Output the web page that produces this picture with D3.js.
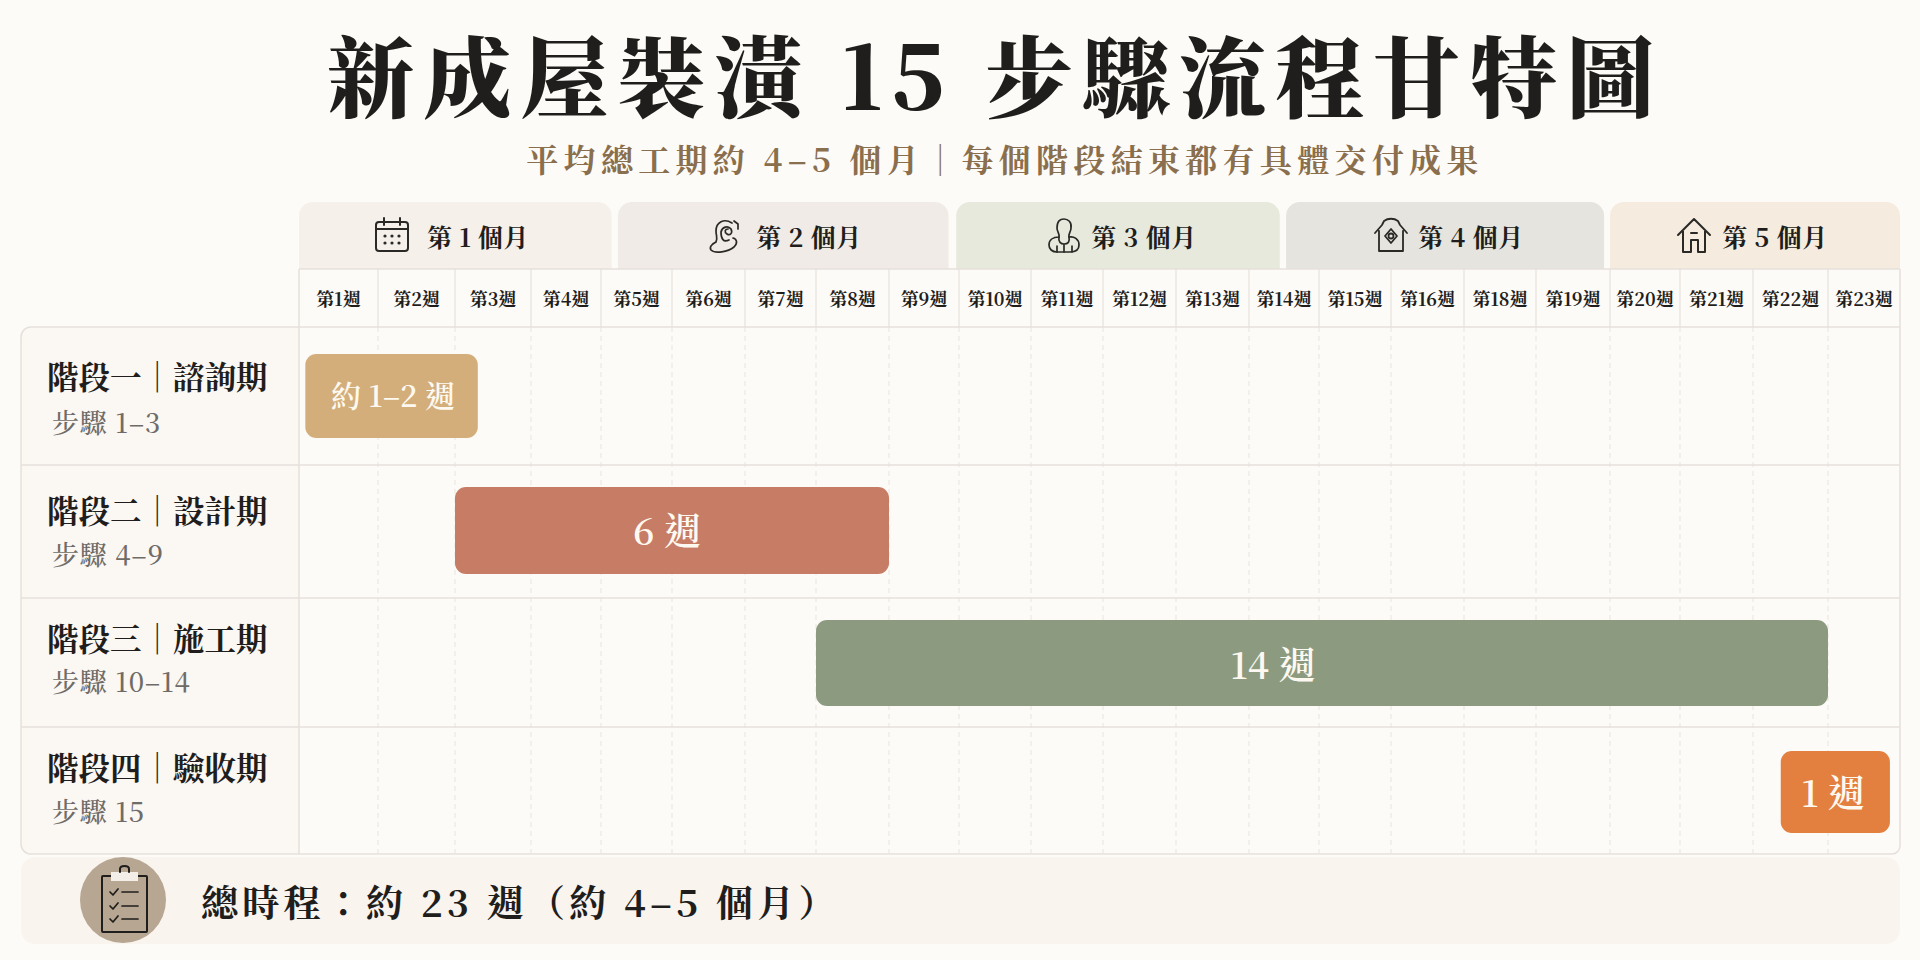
<!DOCTYPE html>
<html lang="zh-Hant"><head><meta charset="utf-8">
<script src="https://cdn.jsdelivr.net/npm/d3@7/dist/d3.min.js"></script>
<style>html,body{margin:0;padding:0;background:#fdfbf7;overflow:hidden}svg{display:block}
text{font-family:"Noto Serif CJK TC","Liberation Serif","Noto Sans CJK TC",serif;font-weight:700;dominant-baseline:central}</style>
</head><body><svg id="c" width="1920" height="960"></svg>
<script>
const titleText = "新成屋裝潢 15 步驟流程甘特圖";
const subtitleText = "平均總工期約 4–5 個月｜每個階段結束都有具體交付成果";
const footerText = "總時程：約 23 週（約 4–5 個月）";
const weekLabels = ["第1週","第2週","第3週","第4週","第5週","第6週","第7週","第8週","第9週","第10週","第11週","第12週","第13週","第14週","第15週","第16週","第18週","第19週","第20週","第21週","第22週","第23週"];
const monthLabels = ["第 1 個月","第 2 個月","第 3 個月","第 4 個月","第 5 個月"];
const monthStart = [0,4.24,8.96,13.53,18];
const monthEnd = [4.15,8.85,13.44,17.92,22];
const phaseNames = ["階段一｜諮詢期","階段二｜設計期","階段三｜施工期","階段四｜驗收期"];
const phaseSteps = ["步驟 1–3","步驟 4–9","步驟 10–14","步驟 15"];
const barLabels = ["約 1–2 週","6 週","14 週","1 週"];
const barStart = [0.08,2,7,20.37];
const barEnd = [2.3,8,21,21.86];

// layout (the hand-ruled columns of the reference are uneven)
const columnEdges = [299,378,455,531,601,672,745,816,889,959,1031,1103,1176,1249,1319,1391,1464,1536,1610,1680,1753,1828,1900];
const rowEdges = [327,465,598,727,854];
const x = d3.scaleLinear().domain(d3.range(columnEdges.length)).range(columnEdges);
const monthFill = ["#f5f0e9","#f0ebe6","#e6e9dc","#e5e4df","#f5ebdf"];
const barFill = ["#d3ae7a","#c67c65","#8c9b80","#e37f3f"];
const barTop = [354,487,620,751], barBottom = [438,574,706,833];
const barTextX = [393,667,1273,1833], barTextY = [393.5,528.5,662.5,790.5];
const labelY = [375.5,509.5,637.5,766.5], stepY = [421.5,553.5,680.5,810.5];
const lineCol = "#e6e1db";
const ink = "#1f1e1c";

const svg = d3.select("#c");
svg.append("rect").attr("width",1920).attr("height",960).attr("fill","#fdfbf7");

svg.append("text").attr("x",995).attr("y",72).attr("text-anchor","middle")
  .attr("font-size",88).attr("letter-spacing",8.9).attr("fill",ink).style("font-weight",900).text(titleText);
svg.append("text").attr("x",1005).attr("y",157.5).attr("text-anchor","middle")
  .attr("font-size",32).attr("letter-spacing",5.3).attr("fill","#8a6f4e").text(subtitleText);

// panels
svg.append("path").attr("fill","#fbf7f3").attr("d",`M299,327H31a10,10 0 0 0 -10,10V844a10,10 0 0 0 10,10H299Z`);
svg.append("path").attr("fill","#fdfbf8").attr("d",`M299,269H1900V846a8,8 0 0 1 -8,8H299Z`);

// months
svg.append("g").selectAll("path").data(monthLabels).join("path")
  .attr("fill",(d,i)=>monthFill[i])
  .attr("d",(d,i)=>{const a=x(monthStart[i]),b=x(monthEnd[i]);
    return `M${a},269V216a14,14 0 0 1 14,-14H${b-14}a14,14 0 0 1 14,14V269Z`;});
const monthTextX = [478,809,1144,1471,1775];
svg.append("g").selectAll("text").data(monthLabels).join("text")
  .attr("x",(d,i)=>monthTextX[i]).attr("y",235.5).attr("text-anchor","middle")
  .attr("font-size",25).attr("fill",ink).attr("letter-spacing",.5).text(d=>d);

// grid lines
const inner = d3.range(1,columnEdges.length-1);
svg.append("g").selectAll("line").data(inner).join("line")
  .attr("x1",d=>x(d)).attr("x2",d=>x(d)).attr("y1",269).attr("y2",327).attr("stroke",lineCol).attr("stroke-width",1.2);
svg.append("g").selectAll("line").data(inner).join("line")
  .attr("x1",d=>x(d)).attr("x2",d=>x(d)).attr("y1",327).attr("y2",854)
  .attr("stroke","#e9e5e0").attr("stroke-width",1).attr("stroke-dasharray","5 4");
svg.append("g").selectAll("line").data([269,...rowEdges.slice(1,4)]).join("line")
  .attr("x1",(d,i)=>i?21:299).attr("x2",1900).attr("y1",d=>d).attr("y2",d=>d).attr("stroke",lineCol).attr("stroke-width",1.6);
svg.append("line").attr("x1",299).attr("x2",1900).attr("y1",327).attr("y2",327).attr("stroke",lineCol).attr("stroke-width",1.6);
svg.append("path").attr("fill","none").attr("stroke",lineCol).attr("stroke-width",1.6)
  .attr("d","M299,327H31a10,10 0 0 0 -10,10V844a10,10 0 0 0 10,10H1892a8,8 0 0 0 8,-8V269M299,269V854");

// week labels
svg.append("g").selectAll("text").data(weekLabels).join("text")
  .attr("x",(d,i)=>(x(i)+x(i+1))/2).attr("y",298).attr("text-anchor","middle")
  .attr("font-size",18).attr("fill",ink).text(d=>d);

// phase labels
svg.append("g").selectAll("text").data(phaseNames).join("text")
  .attr("x",47).attr("y",(d,i)=>labelY[i]).attr("font-size",31.5).attr("fill",ink).text(d=>d);
svg.append("g").selectAll("text").data(phaseSteps).join("text")
  .attr("x",52).attr("y",(d,i)=>stepY[i]).attr("font-size",27).attr("letter-spacing",.8).attr("fill","#6f6c68").style("font-weight",500).text(d=>d);

// bars
svg.append("g").selectAll("rect").data(barLabels).join("rect")
  .attr("x",(d,i)=>x(barStart[i])).attr("width",(d,i)=>x(barEnd[i])-x(barStart[i]))
  .attr("y",(d,i)=>barTop[i]).attr("height",(d,i)=>barBottom[i]-barTop[i])
  .attr("rx",11).attr("fill",(d,i)=>barFill[i]);
svg.append("g").selectAll("text").data(barLabels).join("text")
  .attr("x",(d,i)=>barTextX[i]).attr("y",(d,i)=>barTextY[i])
  .attr("text-anchor","middle").attr("font-size",(d,i)=>i?37:30).attr("fill","#fdf9f0").style("font-weight",600).text(d=>d);

// footer
svg.append("rect").attr("x",21).attr("y",857).attr("width",1879).attr("height",87).attr("rx",14).attr("fill","#f9f4ee");
svg.append("ellipse").attr("cx",123).attr("cy",900).attr("rx",43).attr("ry",43).attr("fill","#b7a692");
svg.append("text").attr("x",201).attr("y",901).attr("font-size",37).attr("letter-spacing",4.25).attr("fill",ink).text(footerText);

// icons
const ic = svg.append("g").attr("fill","none").attr("stroke","#2a2926").attr("stroke-width",2).attr("stroke-linecap","round").attr("stroke-linejoin","round");
const cal = ic.append("g").attr("transform","translate(375,218)");
cal.append("rect").attr("x",1).attr("y",4).attr("width",32).attr("height",29).attr("rx",3);
cal.append("path").attr("d","M1,11H33M9,0V7M25,0V7");
cal.append("g").attr("fill","#2a2926").attr("stroke","none").selectAll("circle")
  .data([[10,18],[17,18],[24,18],[10,25],[17,25],[24,25]]).join("circle").attr("cx",d=>d[0]).attr("cy",d=>d[1]).attr("r",1.6);
const ear = ic.append("g").attr("transform","translate(709,219)").attr("stroke-width",1.7);
ear.append("path").attr("d","M23,4C15,-1 7,3 7,12C7,17 9,19 7,23C3,25 0,28 2,31C6,35 19,33 25,28C29,24 28,20 24,19");
ear.append("path").attr("d","M20,21C14,24 12,19 12,13C13,8 19,6 22,10C24,14 21,17 18,15C15,13 16,10 19,10");
ear.append("path").attr("d","M25,2L29,5V10");
const per = ic.append("g").attr("transform","translate(1048,218)").attr("stroke-width",1.7);
per.append("path").attr("d","M9,10C9,3 12,1 16,1C20,1 24,4 23,10C23,14 20,16 21,19C26,18 31,21 31,27C31,32 27,34 22,34H9C4,34 1,31 1,27C1,22 5,19 11,19C12,16 9,14 9,10Z");
per.append("path").attr("d","M11,19C10,24 13,26 16,26C20,26 22,24 21,19M16,26V34M9,28V34M24,28V34");
const h4 = ic.append("g").attr("transform","translate(1374,218)").attr("stroke-width",1.8);
h4.append("path").attr("d","M1,15L8,7L10,3C14,0 20,0 24,3L26,7L33,15M5,13V33H29V13");
h4.append("path").attr("d","M17,11L23,18L17,25L11,18Z");
h4.append("circle").attr("cx",17).attr("cy",18).attr("r",2.5);
const h5 = ic.append("g").attr("transform","translate(1677,218)").attr("stroke-width",2);
h5.append("path").attr("d","M1,17L17,1L33,17M6,13V34H14V22H21V34H28V13M14,15H20");
const cb = ic.append("g").attr("transform","translate(101,867)").attr("stroke","#1f1e1c").attr("stroke-width",2);
cb.append("rect").attr("x",1).attr("y",9).attr("width",45).attr("height",56).attr("rx",1);
cb.append("rect").attr("x",10).attr("y",5).attr("width",27).attr("height",9).attr("fill","#f3eee7").attr("stroke","none");
cb.append("path").attr("d","M19,5V2C19,-2 28,-2 28,2V5");
cb.append("path").attr("stroke-width",1.7).attr("d","M9,25L12,28L17,22M21,25H37M9,39L12,42L17,36M21,39H37M9,52L12,55L17,49M21,52H37");
</script></body></html>
